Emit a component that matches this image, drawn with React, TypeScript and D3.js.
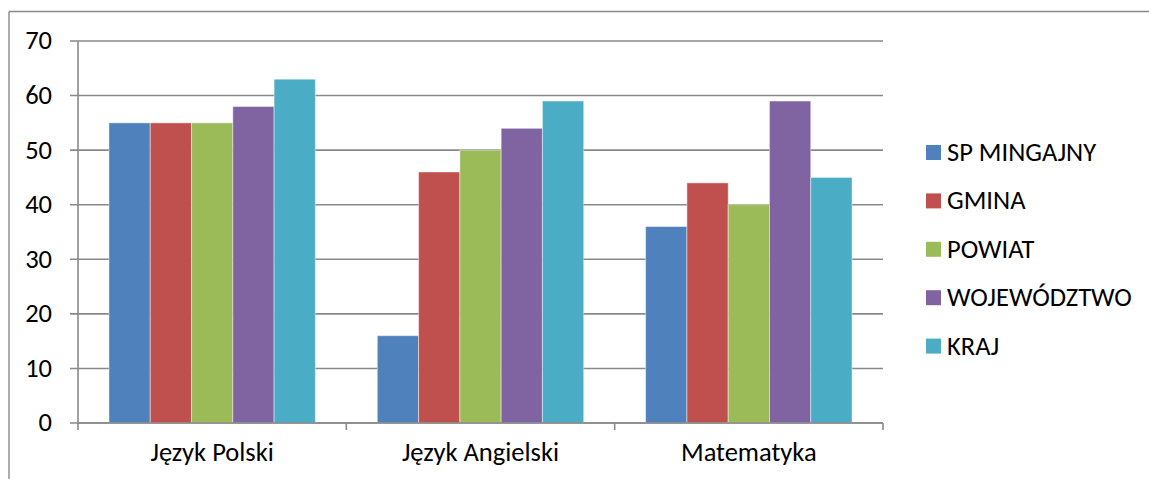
import React from "react";
import * as d3 from "d3";

const categories = ["Język Polski", "Język Angielski", "Matematyka"];
const seriesNames = ["SP MINGAJNY", "GMINA", "POWIAT", "WOJEWÓDZTWO", "KRAJ"];
const spMingajny = [55, 16, 36];
const gmina = [55, 46, 44];
const powiat = [55, 50, 40];
const wojewodztwo = [58, 54, 59];
const kraj = [63, 59, 45];
const yTicks = [0, 10, 20, 30, 40, 50, 60, 70];
const colors = ["#4F81BD", "#C0504D", "#9BBB59", "#8064A2", "#4BACC6"];

const seriesValues = [spMingajny, gmina, powiat, wojewodztwo, kraj];

const W = 1149;
const H = 479;
const plot = { left: 78, right: 883, top: 41, bottom: 423 };
const FONT = "Carlito, Calibri, Lato, sans-serif";
const FS = 26.5;
const AXIS = "#898989";

export default function App() {
  const x0 = d3
    .scaleBand<string>()
    .domain(categories)
    .range([plot.left, plot.right])
    .paddingInner(0)
    .paddingOuter(0);
  const bw = x0.bandwidth();
  // Excel gap width 150% -> group occupies bw * 5 / (5 + 1.5)
  const groupW = (bw * 5) / 6.5;
  const x1 = d3
    .scaleBand<string>()
    .domain(seriesNames)
    .range([0, groupW])
    .padding(0);
  const y = d3.scaleLinear().domain([0, 70]).range([plot.bottom, plot.top]);

  const catEdges = [...categories.map((c) => x0(c) as number), plot.right];

  return (
    <div style={{ position: "fixed", left: 0, top: 0 }}>
      <svg width={W} height={H} style={{ display: "block" }}>
        <rect x={0} y={0} width={W} height={H} fill="#fff" />
        {/* chart border */}
        <line x1={9} y1={11.5} x2={W + 2} y2={11.5} stroke={AXIS} strokeWidth={1.4} />
        <line x1={9} y1={11.5} x2={9} y2={H + 2} stroke={AXIS} strokeWidth={1.4} />
        {/* gridlines */}
        {yTicks.map((t) => (
          <line
            key={"g" + t}
            x1={plot.left - 8}
            x2={plot.right}
            y1={y(t)}
            y2={y(t)}
            stroke={AXIS}
            strokeWidth={1.6}
          />
        ))}
        {/* y labels */}
        {yTicks.map((t) => (
          <text
            key={"yl" + t}
            x={52}
            y={y(t) + 0.32 * FS}
            textAnchor="end"
            fontFamily={FONT}
            fontSize={FS}
            fill="#000"
          >
            {t}
          </text>
        ))}
        {/* bars */}
        {categories.map((c, ci) => {
          const gx = (x0(c) as number) + (bw - groupW) / 2;
          return seriesNames.map((s, si) => {
            const v = seriesValues[si][ci];
            return (
              <rect
                key={c + s}
                x={gx + (x1(s) as number)}
                y={y(v)}
                width={x1.bandwidth()}
                height={y(0) - y(v)}
                fill={colors[si]}
                stroke="rgba(255,255,255,0.45)"
                strokeWidth={1}
              />
            );
          });
        })}
        {/* y axis */}
        <line x1={plot.left} x2={plot.left} y1={plot.top} y2={plot.bottom} stroke={AXIS} strokeWidth={1.6} />
        {/* x axis */}
        <line x1={plot.left} x2={plot.right} y1={plot.bottom} y2={plot.bottom} stroke={AXIS} strokeWidth={1.6} />
        {catEdges.map((ex, i) => (
          <line key={"xt" + i} x1={ex} x2={ex} y1={plot.bottom} y2={plot.bottom + 7} stroke={AXIS} strokeWidth={1.6} />
        ))}
        {categories.map((c) => (
          <text
            key={"xl" + c}
            x={(x0(c) as number) + bw / 2}
            y={461}
            textAnchor="middle"
            fontFamily={FONT}
            fontSize={FS}
            fill="#000"
          >
            {c}
          </text>
        ))}
        {/* legend */}
        {seriesNames.map((s, i) => {
          const cy = 152.5 + i * 48.4;
          return (
            <g key={"lg" + s}>
              <rect x={926} y={cy - 7.5} width={15} height={15} fill={colors[i]} />
              <text x={947} y={cy + 0.32 * FS} fontFamily={FONT} fontSize={FS} fill="#000">
                {s}
              </text>
            </g>
          );
        })}
      </svg>
    </div>
  );
}
